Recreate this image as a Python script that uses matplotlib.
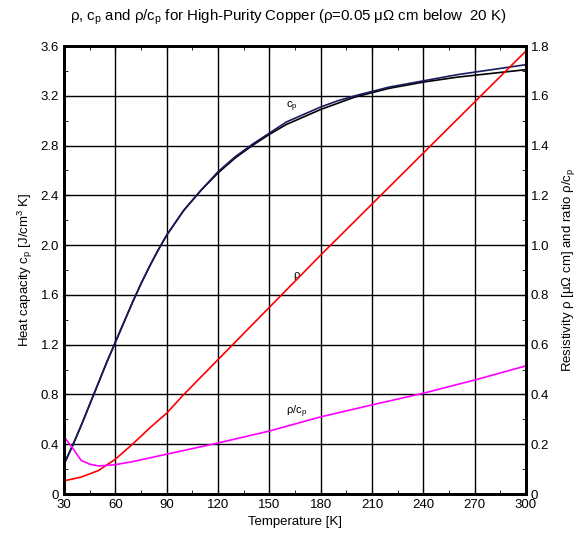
import numpy as np
import matplotlib.pyplot as plt
from matplotlib.ticker import MultipleLocator

plt.rcParams['font.family'] = ['Liberation Sans', 'DejaVu Sans']
plt.rcParams['mathtext.fontset'] = 'custom'
plt.rcParams['mathtext.rm'] = 'Liberation Sans'
plt.rcParams['mathtext.it'] = 'Liberation Sans'

# heat capacity [J/cm^3 K], two nearly identical curves
T_cp = [30, 35, 40, 45, 50, 55, 60, 65, 70, 75, 80, 85, 90, 95, 100, 110, 120, 130, 140, 150,
        160, 170, 180, 190, 200, 220, 240, 260, 280, 300]
cp_1 = [0.24, 0.39, 0.55, 0.72, 0.89, 1.06, 1.22, 1.38, 1.54, 1.69, 1.83, 1.96, 2.08, 2.18, 2.28,
        2.44, 2.58, 2.70, 2.80, 2.89, 2.97, 3.03, 3.09, 3.14, 3.19, 3.26, 3.31, 3.35, 3.38, 3.41]
cp_2 = [0.24, 0.39, 0.55, 0.72, 0.89, 1.06, 1.22, 1.38, 1.54, 1.69, 1.83, 1.96, 2.08, 2.18, 2.28,
        2.44, 2.59, 2.71, 2.81, 2.90, 2.99, 3.05, 3.11, 3.16, 3.20, 3.27, 3.32, 3.37, 3.41, 3.45]

# resistivity [uOhm cm]
T_rho = [30, 40, 50, 60, 70, 80, 90, 100, 120, 150, 180, 210, 240, 270, 300]
rho = [0.053, 0.068, 0.094, 0.14, 0.20, 0.265, 0.325, 0.40, 0.54, 0.75, 0.96, 1.165, 1.37, 1.575, 1.78]

# ratio rho/cp
T_rat = [30, 35, 40, 45, 50, 55, 60, 70, 90, 120, 150, 180, 210, 240, 270, 300]
ratio = [0.23, 0.185, 0.135, 0.12, 0.113, 0.115, 0.118, 0.13, 0.16, 0.205, 0.253, 0.31, 0.358, 0.405, 0.458, 0.515]

fig = plt.figure(figsize=(5.77, 5.35), dpi=100)
ax = fig.add_axes([0.111, 0.0766, 0.8006, 0.8374])
ax2 = ax.twinx()

ax.plot(T_cp, cp_1, color='black', lw=1.2)
ax.plot(T_cp, cp_2, color='#1a1a60', lw=1.2)
ax2.plot(T_rho, rho, color='red', lw=1.2)
ax2.plot(T_rat, ratio, color='#ff00ff', lw=1.2)

ax.set_xlim(30, 300)
ax.set_ylim(0, 3.6)
ax2.set_ylim(0, 1.8)
ax.xaxis.set_major_locator(MultipleLocator(30))
ax.xaxis.set_minor_locator(MultipleLocator(15))
ax.yaxis.set_major_locator(MultipleLocator(0.4))
ax.yaxis.set_minor_locator(MultipleLocator(0.2))
ax2.yaxis.set_major_locator(MultipleLocator(0.2))
ax2.yaxis.set_minor_locator(MultipleLocator(0.1))

ax.grid(True, which='major', color='black', lw=1.0)
ax.set_yticks(np.arange(0, 3.61, 0.4))
ax.set_yticklabels(['0'] + ['%.1f' % v for v in np.arange(0.4, 3.61, 0.4)])
ax2.set_yticks(np.arange(0, 1.81, 0.2))
ax2.set_yticklabels(['0'] + ['%.1f' % v for v in np.arange(0.2, 1.81, 0.2)])

for a in (ax, ax2):
    a.tick_params(which='both', direction='in', labelsize=9.5)
    a.tick_params(which='major', length=4)
    a.tick_params(which='minor', length=3)
    for s in a.spines.values():
        s.set_linewidth(2)
ax.tick_params(axis='x', top=True, which='both')

ax.set_xlabel('Temperature [K]', fontsize=9.5)
ax.set_ylabel('Heat capacity c$_\\mathregular{p}$ [J/cm$^\\mathregular{3}$ K]', fontsize=9.5)
ax2.set_ylabel('Resistivity \u03c1 [\u03bc\u03a9 cm] and ratio \u03c1/c$_\\mathregular{p}$', fontsize=9.5, labelpad=8)
fig.suptitle('\u03c1, c$_\\mathregular{p}$ and \u03c1/c$_\\mathregular{p}$ for High-Purity Copper (\u03c1=0.05 \u03bc\u03a9 cm below  20 K)',
             fontsize=10.8, y=0.985)

ax.text(163, 3.11, 'c$_\\mathregular{p}$', fontsize=8, ha='center', va='center')
ax.text(166, 1.76, '\u03c1', fontsize=8, ha='center', va='center')
ax.text(166, 0.66, '\u03c1/c$_\\mathregular{p}$', fontsize=8, ha='center', va='center')

fig.savefig('out.png', dpi=100)
